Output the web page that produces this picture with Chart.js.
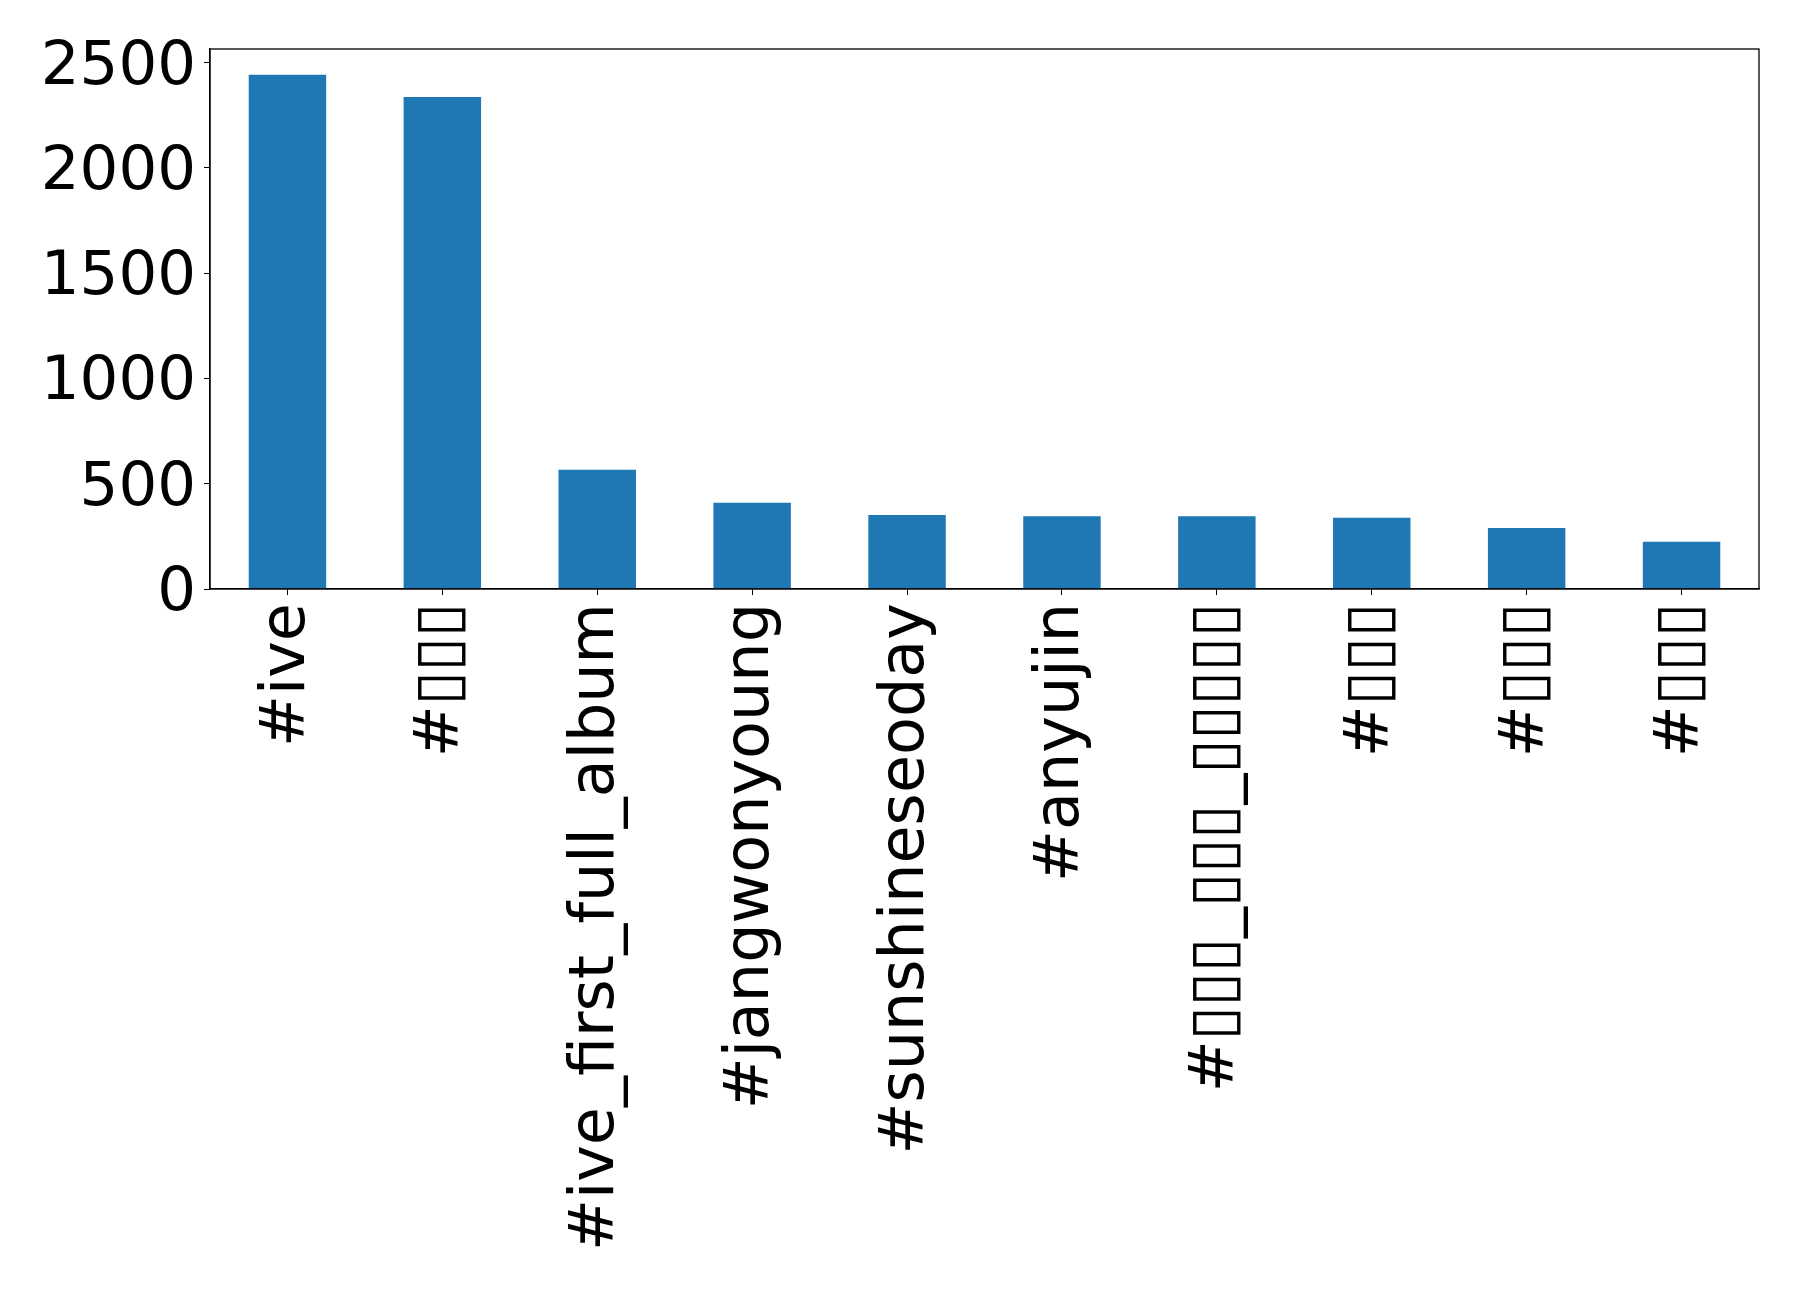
<!DOCTYPE html>
<html>
<head>
<meta charset="utf-8">
<script src="https://cdn.jsdelivr.net/npm/chart.js@4.4.0/dist/chart.umd.min.js"></script>
<style>
  html, body { margin: 0; padding: 0; background: #fff; }
  canvas { display: block; }
</style>
</head>
<body>
<canvas id="c" width="1798" height="1292"></canvas>
<script>
// Category labels (Korean glyphs are shown as missing-glyph boxes in the reference)
const categories = [
  "#ive",
  "#▯▯▯",
  "#ive_first_full_album",
  "#jangwonyoung",
  "#sunshineseoday",
  "#anyujin",
  "#▯▯▯_▯▯▯_▯▯▯▯▯",
  "#▯▯▯",
  "#▯▯▯",
  "#▯▯▯"
];
const counts = [2443, 2337, 567, 410, 351, 346, 346, 338, 290, 224];
const yTicks = [0, 500, 1000, 1500, 2000, 2500];

const FONT = "'DejaVu Sans', 'Liberation Sans', sans-serif";

const framePlugin = {
  id: 'frame',
  afterDraw(chart) {
    const a = chart.chartArea, ctx = chart.ctx;
    ctx.save();
    ctx.strokeStyle = '#000';
    ctx.lineWidth = 1.3;
    ctx.strokeRect(a.left, a.top, a.right - a.left, a.bottom - a.top);
    ctx.restore();
  }
};

new Chart(document.getElementById('c'), {
  type: 'bar',
  data: {
    labels: categories,
    datasets: [{
      data: counts,
      backgroundColor: '#1f77b4',
      borderWidth: 0,
      categoryPercentage: 1.0,
      barPercentage: 0.5
    }]
  },
  options: {
    responsive: false,
    animation: false,
    devicePixelRatio: 1,
    layout: { padding: { left: 42, right: 39, top: 49, bottom: 0 } },
    plugins: { legend: { display: false }, tooltip: { enabled: false } },
    scales: {
      x: {
        offset: true,
        grid: { display: true, offset: false, drawOnChartArea: false, drawTicks: true, tickLength: 6, color: '#000', lineWidth: 1 },
        border: { display: true, color: '#000', width: 1.3 },
        ticks: {
          autoSkip: false,
          minRotation: 90,
          maxRotation: 90,
          padding: 8,
          color: '#000',
          font: { family: FONT, size: 62 }
        },
        afterFit(scale) { scale.height = 1292 - 589; }
      },
      y: {
        min: 0,
        max: Math.max(...counts) * 1.05,
        grid: { display: true, drawOnChartArea: false, drawTicks: true, tickLength: 6, color: '#000', lineWidth: 1 },
        border: { display: true, color: '#000', width: 1.3 },
        afterBuildTicks(scale) { scale.ticks = yTicks.map(v => ({ value: v })); },
        ticks: {
          autoSkip: false,
          padding: 8,
          labelOffset: 5,
          color: '#000',
          font: { family: FONT, size: 61 },
          callback: (v) => String(v)
        },
        afterFit(scale) { scale.width = 168; }
      }
    }
  },
  plugins: [framePlugin]
});
</script>
</body>
</html>
